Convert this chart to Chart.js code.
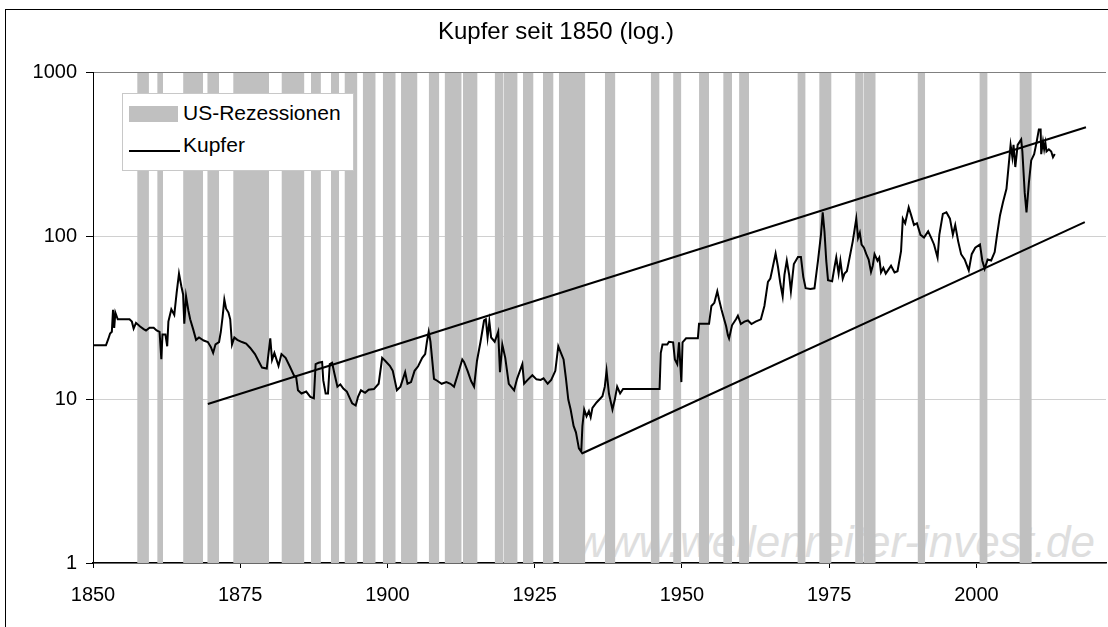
<!DOCTYPE html>
<html><head><meta charset="utf-8">
<script src="https://cdn.jsdelivr.net/npm/chart.js@4.4.1/dist/chart.umd.min.js"></script>
<style>
html,body{margin:0;padding:0;background:#fff;width:1108px;height:627px;overflow:hidden;font-family:"Liberation Sans",Arial,sans-serif;}
#frame{position:absolute;left:5px;top:9px;width:1200px;height:700px;border-left:1px solid #000;border-top:1px solid #000;}
#wm{position:absolute;right:13px;top:520px;font-size:44px;line-height:44px;font-style:italic;color:#dedede;white-space:nowrap;z-index:0;}
#c{position:absolute;left:6px;top:10px;z-index:1;}
#legend{position:absolute;left:122px;top:93px;width:230px;height:76px;border:1px solid #c8c8c8;background:#fff;z-index:2;}
#legend .sw{position:absolute;left:6px;top:12px;width:49px;height:16px;background:#c0c0c0;}
#legend .ln{position:absolute;left:6px;top:56px;width:51px;height:2px;background:#000;}
#legend .t{position:absolute;left:60px;font-size:21px;line-height:21px;color:#000;white-space:nowrap;}
</style>
</head><body>
<div id="frame"></div>
<div id="wm">www.wellenreiter-invest.de</div>
<canvas id="c" width="1102" height="617"></canvas>
<div id="legend">
  <div class="sw"></div><div class="t" style="top:8px">US-Rezessionen</div>
  <div class="ln"></div><div class="t" style="top:40px">Kupfer</div>
</div>
<script>
const titleText = 'Kupfer seit 1850 (log.)';
const xTickYears = [1850, 1875, 1900, 1925, 1950, 1975, 2000];
const yTickValues = [1, 10, 100, 1000];

const years = [1850.0,1851.2,1852.2,1852.6,1852.9,1853.2,1853.4,1853.6,1853.8,1854.2,1855.2,1856.2,1856.6,1856.9,1857.3,1858.0,1858.6,1859.0,1859.6,1860.3,1860.8,1861.3,1861.6,1861.8,1862.3,1862.6,1862.8,1863.3,1863.8,1864.2,1864.6,1865.0,1865.3,1865.5,1865.8,1866.2,1866.5,1867.0,1867.5,1868.0,1868.8,1869.5,1870.0,1870.4,1870.8,1871.4,1871.7,1872.0,1872.3,1872.6,1873.0,1873.3,1873.6,1874.0,1874.5,1875.3,1876.0,1876.7,1877.5,1878.2,1878.7,1879.5,1880.1,1880.4,1880.8,1881.5,1882.0,1882.7,1883.4,1884.1,1884.5,1884.8,1885.4,1886.2,1886.9,1887.5,1887.8,1888.3,1888.9,1889.1,1889.5,1889.9,1890.2,1890.6,1891.0,1891.5,1892.0,1892.5,1893.1,1893.6,1894.0,1894.6,1895.0,1895.5,1896.2,1896.8,1897.7,1898.5,1899.1,1899.6,1900.4,1900.9,1901.6,1902.2,1903.0,1903.4,1904.0,1904.6,1905.2,1905.9,1906.4,1906.7,1907.0,1907.3,1907.9,1908.5,1909.2,1910.0,1910.7,1911.3,1911.9,1912.7,1913.0,1913.6,1914.2,1914.7,1915.2,1915.8,1916.4,1916.7,1917.0,1917.3,1917.6,1918.2,1918.8,1919.1,1919.5,1920.0,1920.6,1921.5,1922.0,1922.9,1923.2,1923.8,1924.6,1925.3,1926.0,1926.5,1927.2,1927.8,1928.5,1929.0,1929.4,1929.9,1930.3,1930.7,1931.1,1931.6,1932.0,1932.5,1932.9,1933.1,1933.4,1933.8,1934.2,1934.5,1934.8,1935.5,1936.5,1936.9,1937.2,1937.6,1938.2,1938.6,1939.0,1939.5,1940.0,1940.8,1946.2,1946.4,1946.7,1947.5,1947.8,1948.5,1948.8,1949.2,1949.5,1949.9,1950.1,1950.7,1952.7,1952.9,1954.6,1955.0,1955.5,1956.0,1956.3,1956.7,1957.0,1957.5,1957.8,1958.0,1958.5,1959.2,1959.5,1960.0,1960.6,1961.2,1961.8,1962.5,1963.4,1964.0,1964.6,1965.0,1965.3,1965.9,1966.3,1966.7,1967.1,1967.4,1967.8,1968.2,1968.5,1969.0,1969.7,1970.2,1970.6,1971.0,1971.8,1972.5,1973.1,1973.6,1973.9,1974.2,1974.5,1974.8,1975.5,1975.9,1976.2,1976.6,1976.9,1977.3,1977.6,1978.0,1978.2,1979.0,1979.6,1979.9,1980.2,1980.5,1980.9,1981.3,1981.7,1982.1,1982.4,1982.7,1983.2,1983.5,1983.8,1984.2,1984.6,1985.0,1985.5,1986.1,1986.6,1987.2,1987.5,1987.9,1988.5,1988.9,1989.4,1989.9,1990.5,1991.1,1991.8,1992.3,1992.8,1993.4,1993.7,1994.3,1994.9,1995.5,1996.0,1996.4,1996.9,1997.4,1998.0,1998.7,1999.2,1999.8,2000.6,2001.0,2001.4,2001.9,2002.5,2003.1,2003.5,2004.0,2004.5,2005.1,2005.4,2005.8,2006.1,2006.3,2006.6,2007.0,2007.6,2007.8,2008.2,2008.5,2008.9,2009.3,2009.8,2010.2,2010.6,2010.9,2011.0,2011.3,2011.5,2011.7,2011.9,2012.3,2012.7,2013.0,2013.3];
const copper = [21.5,21.5,21.5,23.5,25.4,26,35.5,27.5,34,31,31,31,30,27.2,29.5,28,27,26.5,27.5,27.5,26.5,26,17.7,25,25,21.2,30,35.7,33,45,59,49.4,44,29.1,42.9,35,31,27,23.2,24,23,22.5,21,19.3,21.8,22.5,26,32,40.9,36,34.1,31,21.7,24,23.2,22.5,22,20.7,19,17,15.7,15.5,23.7,17.5,19.3,16.1,19,18,16,14.1,13.7,11.4,10.9,11.2,10.4,10.2,16.5,16.8,17,13.1,10.9,10.9,16.5,16.8,14.4,12,12.4,11.7,11.2,10.2,9.5,9.2,10.4,11.4,11,11.5,11.6,12.5,18,17.3,16.1,15,11.4,12,14.7,12.5,12.8,15,16,18,19,22.6,26,22.6,13.4,13,12.5,12.8,12.5,12,14.1,17.6,17,15,13,12,17.3,22.6,30.5,31,24,30,24,22.6,26,14.7,21.7,18,12.5,11.4,13.4,16.5,12.5,13.2,14.1,13.3,13.2,13.5,12.5,13.2,15,21.2,19.5,17.6,13.5,10,8.7,6.9,6.3,5.03,4.8,6.9,8.7,7.9,8.5,7.8,8.9,9.6,10.5,12,15,10.9,8.7,10,12,10.9,11.6,11.6,11.6,19.3,21.7,21.7,22.6,22.4,17.6,16.5,22.4,12.8,22.4,23.7,23.7,29.1,29.1,37.4,39.1,46,41,35.7,32.6,28.1,24.8,23.7,28.5,31.1,32.6,29,30,30.5,29,30,31,37.4,52.6,55,61.7,78.3,65,51.5,42.9,58,70.8,58,46,67.6,74.7,74.7,56.4,48.1,47.5,48,70.8,101.9,140,106.7,70.8,53.8,53,64.6,74.1,59,70.8,55,59,61,66.1,93,128,97.5,105,88.9,85,77.6,72,60.4,66,77.6,70.8,74,60,64,59,62,66,60,61,81.1,128,120,150,135,117,120,102,98,107,98,89,74,102,137,140,128,102,117,93,77.6,72,61.7,77.6,85,89,70.8,63.1,72,71,80,102,134,161,195,254,362,304,362,265,362,391,330,184,140,211,291,318,374,449,449,318,380,340,374,330,340,330,304,318];

const recStart = [1857.5,1860.9,1865.3,1869.4,1873.8,1882.0,1887.0,1890.4,1892.7,1895.8,1899.2,1902.3,1907.0,1909.7,1912.8,1918.2,1919.7,1923.0,1926.4,1929.1,1936.9,1944.7,1948.5,1952.9,1957.0,1959.7,1969.6,1973.3,1979.4,1980.8,1990.0,2000.5,2007.3];
const recEnd   = [1859.5,1861.9,1868.7,1871.4,1879.9,1885.9,1888.7,1891.8,1894.9,1898.0,1901.4,1905.1,1908.8,1912.6,1915.3,1919.7,1922.1,1924.8,1928.2,1933.6,1938.7,1946.2,1949.9,1954.6,1958.5,1961.4,1971.0,1975.4,1980.8,1982.9,1991.3,2001.9,2009.4];

const upperTrendYears = [1869.5, 2018.6];
const upperTrendValues = [9.4, 464];
const lowerTrendYears = [1933.0, 2018.4];
const lowerTrendValues = [4.68, 122];

const xMin = 1850, xMax = 2022;
const yMin = 1, yMax = 1000;

const copperPts = years.map((x, i) => ({x: x, y: copper[i]}));
const upperPts = upperTrendYears.map((x, i) => ({x: x, y: upperTrendValues[i]}));
const lowerPts = lowerTrendYears.map((x, i) => ({x: x, y: lowerTrendValues[i]}));
const recPts = [];
recStart.forEach((s, i) => {
  recPts.push({x: s, y: yMax});
  recPts.push({x: recEnd[i], y: yMax});
  recPts.push({x: recEnd[i], y: null});
});

Chart.defaults.font.family = '"Liberation Sans", Arial, sans-serif';
Chart.defaults.font.size = 20;
Chart.defaults.color = '#000';

new Chart(document.getElementById('c'), {
  type: 'line',
  data: {
    datasets: [
      {label: 'Kupfer', data: copperPts, borderColor: '#000', borderWidth: 2, pointRadius: 0, tension: 0, fill: false, order: 0},
      {label: 'Trend oben', data: upperPts, borderColor: '#000', borderWidth: 2, pointRadius: 0, fill: false, order: 1},
      {label: 'Trend unten', data: lowerPts, borderColor: '#000', borderWidth: 2, pointRadius: 0, fill: false, order: 2},
      {label: 'US-Rezessionen', data: recPts, borderColor: 'rgba(0,0,0,0)', borderWidth: 0, backgroundColor: '#c0c0c0', fill: 'start', pointRadius: 0, spanGaps: false, order: 10}
    ]
  },
  options: {
    responsive: false,
    animation: false,
    layout: {padding: {left: 0, right: 2, top: 0, bottom: 5}},
    plugins: {
      legend: {display: false},
      tooltip: {enabled: false},
      title: {display: true, text: titleText, color: '#000', font: {size: 24, weight: 'normal'}, padding: {top: 8, bottom: 26}}
    },
    scales: {
      x: {
        type: 'linear', min: xMin, max: xMax,
        afterBuildTicks: s => { s.ticks = xTickYears.map(v => ({value: v})); },
        ticks: {callback: v => String(v), padding: 15, maxRotation: 0, autoSkip: false},
        grid: {drawOnChartArea: false, drawTicks: true, tickLength: 5, tickColor: '#000'},
        border: {color: '#000', width: 1.5}
      },
      y: {
        type: 'logarithmic', min: yMin, max: yMax,
        afterBuildTicks: s => { s.ticks = yTickValues.map(v => ({value: v})); },
        afterFit: s => { s.width = 87; },
        ticks: {callback: v => String(v), padding: 9, autoSkip: false},
        grid: {color: c => (c.tick && c.tick.value === yMax) ? '#808080' : '#d0d0d0', tickColor: '#000', tickLength: 7},
        border: {color: '#000', width: 1}
      }
    }
  }
});
</script>
</body></html>
